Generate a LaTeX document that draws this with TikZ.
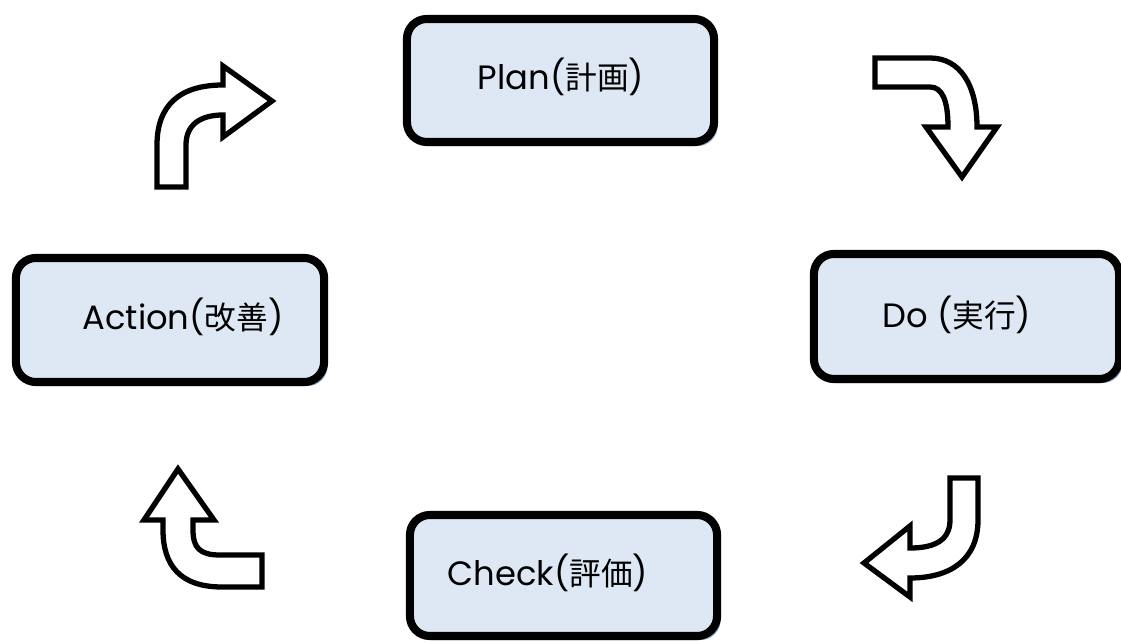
\documentclass[tikz,border=0pt]{standalone}
\usepackage{fontspec}
\setmainfont{Poppins}
\newfontfamily\jpfont{Noto Sans CJK JP}
\newcommand{\jp}[1]{{\jpfont\fontsize{9pt}{11pt}\selectfont #1}}
\usetikzlibrary{shadows}
\definecolor{boxfill}{HTML}{DDE8F4}
\definecolor{shadowblue}{HTML}{8FA6C4}
\tikzset{
  pdcabox/.style={draw=black, line width=2.3pt, fill=boxfill, rounded corners=0.2cm,
    inner sep=0pt, anchor=center,
    general shadow={fill=shadowblue, shadow xshift=0.035cm, shadow yshift=-0.04cm}},
  pdcalbl/.style={font=\fontsize{9.6pt}{11pt}\selectfont, inner sep=0pt, anchor=center},
  blockarrow/.style={draw=black, line width=1.5pt, fill=white, line join=miter}
}
\begin{document}
\begin{tikzpicture}[x=0.01cm, y=-0.01cm]
\useasboundingbox (0,0) rectangle (1121,643);
% boxes
\node[pdcabox, minimum width=3.07cm, minimum height=1.23cm] (plan) at (560.5,80.5) {};
\node[pdcabox, minimum width=3.05cm, minimum height=1.25cm] (do) at (966.5,316.5) {};
\node[pdcabox, minimum width=3.08cm, minimum height=1.24cm] (action) at (170,320) {};
\node[pdcabox, minimum width=3.07cm, minimum height=1.21cm] (check) at (563.5,575.5) {};
% labels
\node[pdcalbl] (planT) at (561,77) {Plan(\jp{計画})};
\node[pdcalbl] (doT) at (957,315) {Do (\jp{実行})};
\node[pdcalbl] (actionT) at (183,317) {Action(\jp{改善})};
\node[pdcalbl] (checkT) at (548,573) {Check(\jp{評価})};
% block arrows
\draw[blockarrow] (157,187) -- (157,145) .. controls (157,105) and (180,85) .. (223,85)
  -- (223,66) -- (272,101) -- (223,137) -- (223,115)
  .. controls (200,115) and (186,125) .. (186,145) -- (186,187) -- cycle;
\draw[blockarrow] (875,58) -- (930,58) .. controls (960,58) and (977,85) .. (977,127)
  -- (997,127) -- (962,177) -- (926,127) -- (948,127)
  .. controls (948,100) and (942,87) .. (930,87) -- (875,87) -- cycle;
\draw[blockarrow] (950,478) -- (978,478) -- (978,520) .. controls (978,560) and (950,578) .. (910,578)
  -- (910,597) -- (864,563) -- (910,526) -- (910,548)
  .. controls (935,548) and (950,540) .. (950,520) -- cycle;
\draw[blockarrow] (163,520) -- (144,520) -- (178,469) -- (214,520) -- (193,520) -- (193,530)
  .. controls (193,548) and (200,555) .. (220,555) -- (262,555) -- (262,587) -- (222,587)
  .. controls (180,587) and (163,565) .. (163,530) -- cycle;
\end{tikzpicture}
\end{document}
